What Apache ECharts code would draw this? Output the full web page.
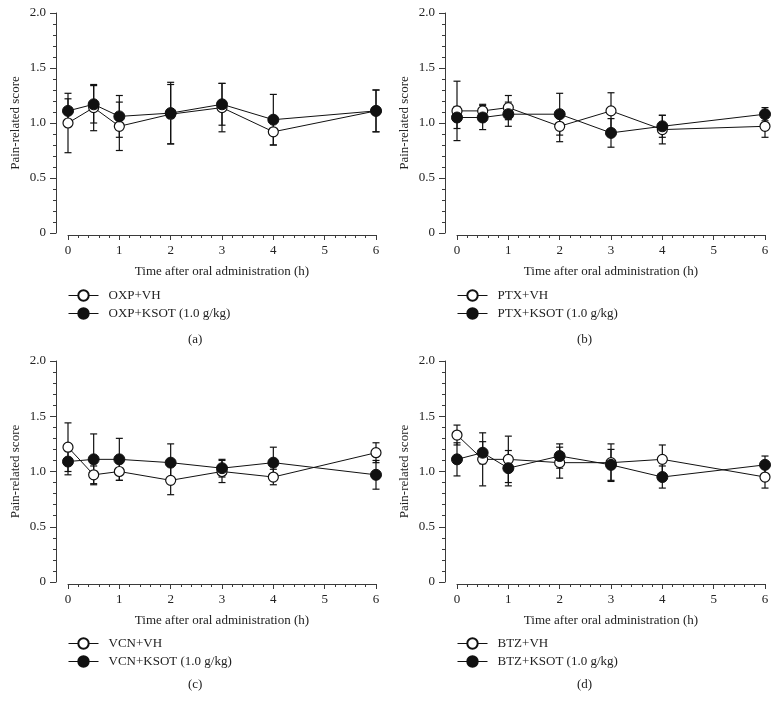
<!DOCTYPE html>
<html>
<head>
<meta charset="utf-8">
<script src="https://cdn.jsdelivr.net/npm/echarts@6/dist/echarts.min.js"></script>
<style>
html,body{margin:0;padding:0;background:#fff;}
#c{width:778px;height:712px;}
</style>
</head>
<body>
<div id="c"></div>
<script>
const times = [0, 0.5, 1, 2, 3, 4, 6];
const xTicks = [0, 1, 2, 3, 4, 5, 6];
const yTicks = [0, 0.5, 1.0, 1.5, 2.0];

const oxpVH = [1.00, 1.14, 0.97, 1.08, 1.14, 0.92, 1.11];
const oxpVHsd = [0.27, 0.21, 0.22, 0.27, 0.22, 0.12, 0.19];
const oxpKS = [1.11, 1.17, 1.06, 1.09, 1.17, 1.03, 1.11];
const oxpKSsd = [0.11, 0.17, 0.19, 0.28, 0.19, 0.23, 0.19];

const ptxVH = [1.11, 1.11, 1.14, 0.97, 1.11, 0.94, 0.97];
const ptxVHsd = [0.27, 0.06, 0.11, 0.14, 0.165, 0.13, 0.10];
const ptxKS = [1.05, 1.05, 1.08, 1.08, 0.91, 0.97, 1.08];
const ptxKSsd = [0.10, 0.11, 0.11, 0.19, 0.13, 0.10, 0.06];

const vcnVH = [1.22, 0.97, 1.00, 0.92, 1.00, 0.95, 1.17];
const vcnVHsd = [0.22, 0.08, 0.08, 0.13, 0.10, 0.07, 0.09];
const vcnKS = [1.09, 1.11, 1.11, 1.08, 1.03, 1.08, 0.97];
const vcnKSsd = [0.12, 0.23, 0.19, 0.17, 0.08, 0.14, 0.13];

const btzVH = [1.33, 1.11, 1.11, 1.08, 1.08, 1.11, 0.95];
const btzVHsd = [0.09, 0.24, 0.21, 0.14, 0.17, 0.13, 0.10];
const btzKS = [1.11, 1.17, 1.03, 1.14, 1.06, 0.95, 1.06];
const btzKSsd = [0.15, 0.10, 0.16, 0.11, 0.14, 0.10, 0.08];

const panels = [
  {drug: 'OXP', label: '(a)', vh: oxpVH, vhsd: oxpVHsd, ks: oxpKS, kssd: oxpKSsd},
  {drug: 'PTX', label: '(b)', vh: ptxVH, vhsd: ptxVHsd, ks: ptxKS, kssd: ptxKSsd},
  {drug: 'VCN', label: '(c)', vh: vcnVH, vhsd: vcnVHsd, ks: vcnKS, kssd: vcnKSsd},
  {drug: 'BTZ', label: '(d)', vh: btzVH, vhsd: btzVHsd, ks: btzKS, kssd: btzKSsd}
];

const FONT = 'Liberation Serif';
const TXT = '#222';
const AX = '#3a3a3a';
const layout = [
  {left: 68, top: 13, height: 220, legTop: 284, subTop: 328},
  {left: 457, top: 13, height: 220, legTop: 284, subTop: 328},
  {left: 68, top: 361, height: 221, legTop: 632, subTop: 673},
  {left: 457, top: 361, height: 221, legTop: 632, subTop: 673}
];

const grids = [], xAxes = [], yAxes = [], series = [], legends = [], titles = [];

function errRender(params, api) {
  const x = api.value(0), m = api.value(1), s = api.value(2);
  const hi = api.coord([x, m + s]);
  const lo = api.coord([x, m - s]);
  const w = 3.5;
  const st = {stroke: '#111', lineWidth: 1.2};
  return {
    type: 'group',
    children: [
      {type: 'line', shape: {x1: hi[0], y1: hi[1], x2: lo[0], y2: lo[1]}, style: st},
      {type: 'line', shape: {x1: hi[0] - w, y1: hi[1], x2: hi[0] + w, y2: hi[1]}, style: st},
      {type: 'line', shape: {x1: lo[0] - w, y1: lo[1], x2: lo[0] + w, y2: lo[1]}, style: st}
    ]
  };
}

panels.forEach((p, i) => {
  const L = layout[i];
  grids.push({left: L.left, top: L.top, width: 308, height: L.height, containLabel: false});
  xAxes.push({
    type: 'value', gridIndex: i, min: 0, max: 6, interval: 1, offset: 2,
    name: 'Time after oral administration (h)', nameLocation: 'middle', nameGap: 30,
    nameTextStyle: {fontFamily: FONT, fontSize: 13, color: TXT},
    axisLine: {show: true, onZero: false, lineStyle: {color: AX, width: 1}},
    axisTick: {show: true, length: 5, lineStyle: {color: AX}},
    minorTick: {show: true, splitNumber: 5, length: 3, lineStyle: {color: AX}},
    axisLabel: {fontFamily: FONT, fontSize: 13, color: TXT, margin: 9},
    splitLine: {show: false}
  });
  yAxes.push({
    type: 'value', gridIndex: i, min: 0, max: 2, interval: 0.5, offset: 12,
    name: 'Pain-related score', nameLocation: 'middle', nameGap: 34, nameRotate: 90,
    nameTextStyle: {fontFamily: FONT, fontSize: 13, color: TXT},
    axisLine: {show: true, onZero: false, lineStyle: {color: AX, width: 1}},
    axisTick: {show: true, length: 6, lineStyle: {color: AX}},
    minorTick: {show: true, splitNumber: 5, length: 3, lineStyle: {color: AX}},
    axisLabel: {fontFamily: FONT, fontSize: 13, color: TXT, margin: 10,
      formatter: v => v === 0 ? '0' : v.toFixed(1)},
    splitLine: {show: false}
  });
  const vhName = p.drug + '+VH';
  const ksName = p.drug + '+KSOT (1.0 g/kg)';
  series.push({
    type: 'custom', xAxisIndex: i, yAxisIndex: i, z: 1, silent: true,
    renderItem: errRender, data: times.map((t, k) => [t, p.vh[k], p.vhsd[k]])
  });
  series.push({
    type: 'custom', xAxisIndex: i, yAxisIndex: i, z: 1, silent: true,
    renderItem: errRender, data: times.map((t, k) => [t, p.ks[k], p.kssd[k]])
  });
  series.push({
    name: vhName, type: 'line', xAxisIndex: i, yAxisIndex: i, z: 3,
    data: times.map((t, k) => [t, p.vh[k]]),
    symbol: 'circle', symbolSize: 10, showAllSymbol: true,
    lineStyle: {color: '#111', width: 1},
    itemStyle: {color: '#fff', borderColor: '#111', borderWidth: 1.2},
    animation: false
  });
  series.push({
    name: ksName, type: 'line', xAxisIndex: i, yAxisIndex: i, z: 4,
    data: times.map((t, k) => [t, p.ks[k]]),
    symbol: 'circle', symbolSize: 11, showAllSymbol: true,
    lineStyle: {color: '#111', width: 1},
    itemStyle: {color: '#111', borderColor: '#111', borderWidth: 1},
    animation: false
  });
  legends.push({
    data: [vhName, ksName], orient: 'vertical', left: L.left - 5, top: L.legTop,
    itemWidth: 30, itemHeight: 13, itemGap: 5, selectedMode: false,
    lineStyle: {width: 1},
    textStyle: {fontFamily: FONT, fontSize: 13, color: TXT, padding: [0, 0, 0, 5]}
  });
  titles.push({
    text: p.label, left: L.left + 115, top: L.subTop,
    textStyle: {fontFamily: FONT, fontSize: 13, fontWeight: 'normal', color: TXT}
  });
});

const chart = echarts.init(document.getElementById('c'), null, {renderer: 'canvas'});
chart.setOption({
  animation: false,
  backgroundColor: '#fff',
  title: titles,
  grid: grids,
  xAxis: xAxes,
  yAxis: yAxes,
  legend: legends,
  series: series
});
</script>
</body>
</html>
